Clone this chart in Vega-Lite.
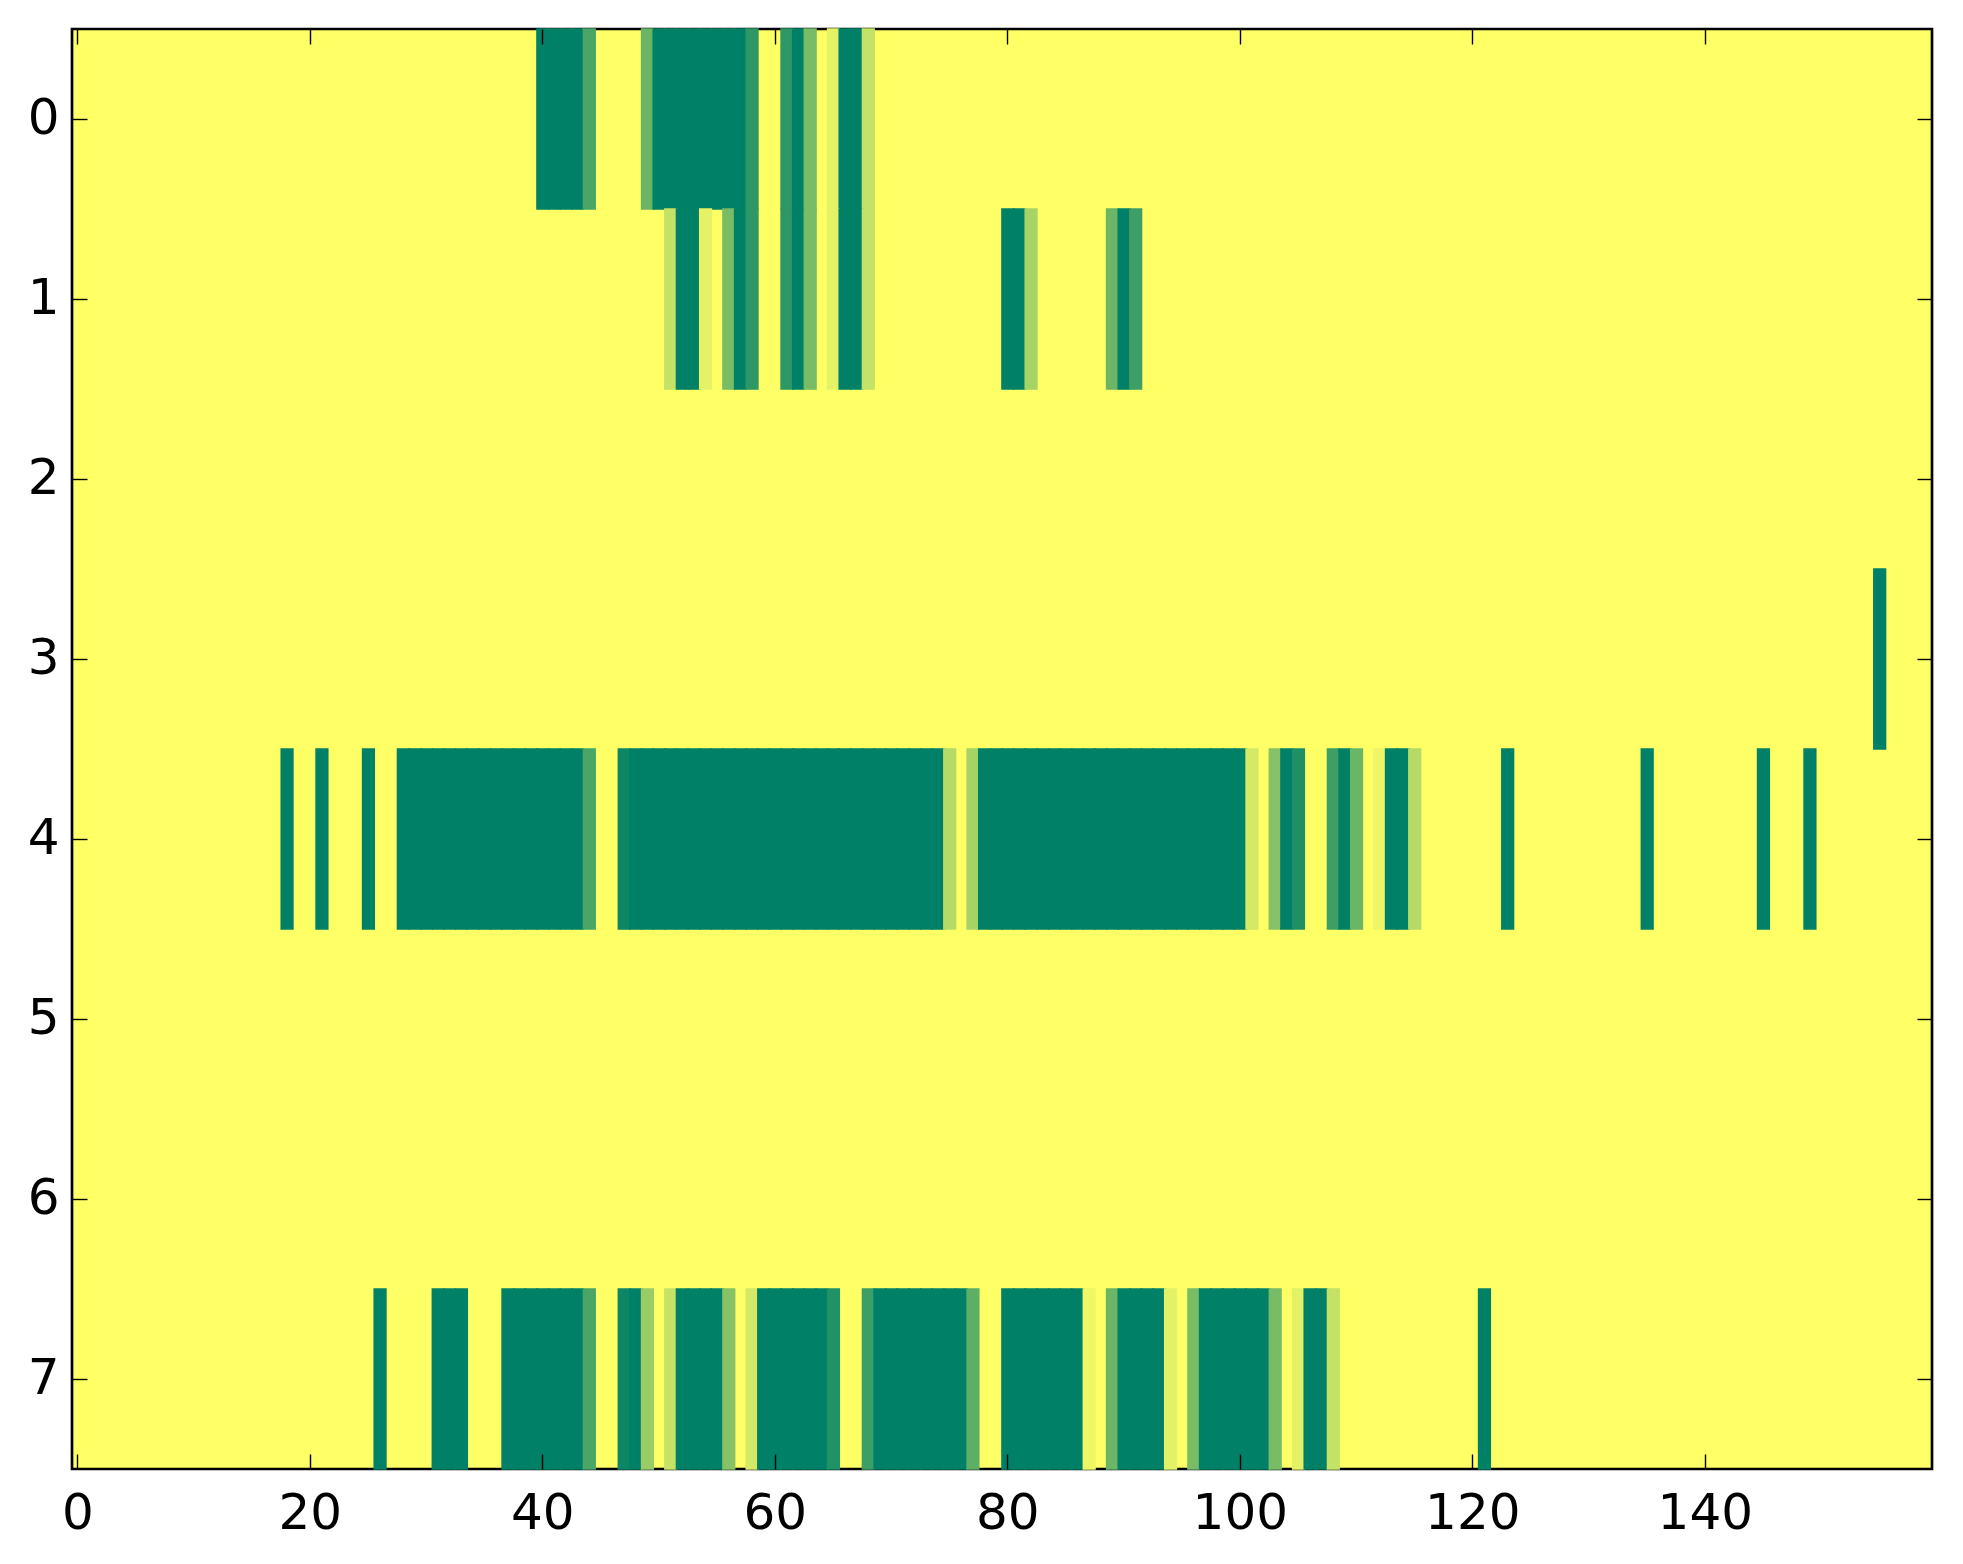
{
  "$schema": "https://vega.github.io/schema/vega-lite/v6.json",
  "width": 1860,
  "height": 1440,
  "autosize": {"type": "none"},
  "padding": {"left": 72, "top": 29, "right": 31, "bottom": 95},
  "background": "white",
  "data": {
    "values": [
      {"r":0,"c":40,"v":1},{"r":0,"c":41,"v":1},{"r":0,"c":42,"v":1},{"r":0,"c":43,"v":1},{"r":0,"c":44,"v":0.71},
      {"r":0,"c":49,"v":0.58},{"r":0,"c":50,"v":1},{"r":0,"c":51,"v":1},{"r":0,"c":52,"v":1},{"r":0,"c":53,"v":1},
      {"r":0,"c":54,"v":1},{"r":0,"c":55,"v":1},{"r":0,"c":56,"v":1},{"r":0,"c":57,"v":1},{"r":0,"c":58,"v":0.82},
      {"r":0,"c":61,"v":0.82},{"r":0,"c":62,"v":1},{"r":0,"c":63,"v":0.53},{"r":0,"c":65,"v":0.1},{"r":0,"c":66,"v":1},
      {"r":0,"c":67,"v":1},{"r":0,"c":68,"v":0.23},

      {"r":1,"c":51,"v":0.23},{"r":1,"c":52,"v":1},{"r":1,"c":53,"v":1},{"r":1,"c":54,"v":0.1},{"r":1,"c":56,"v":0.53},
      {"r":1,"c":57,"v":1},{"r":1,"c":58,"v":0.82},{"r":1,"c":61,"v":0.82},{"r":1,"c":62,"v":1},{"r":1,"c":63,"v":0.53},
      {"r":1,"c":65,"v":0.1},{"r":1,"c":66,"v":1},{"r":1,"c":67,"v":1},{"r":1,"c":68,"v":0.23},{"r":1,"c":80,"v":1},
      {"r":1,"c":81,"v":1},{"r":1,"c":82,"v":0.35},{"r":1,"c":89,"v":0.58},{"r":1,"c":90,"v":1},{"r":1,"c":91,"v":0.76},

      {"r":3,"c":155,"v":1},

      {"r":4,"c":18,"v":1},{"r":4,"c":21,"v":1},{"r":4,"c":25,"v":1},
      {"r":4,"c":28,"v":1},{"r":4,"c":29,"v":1},{"r":4,"c":30,"v":1},{"r":4,"c":31,"v":1},{"r":4,"c":32,"v":1},
      {"r":4,"c":33,"v":1},{"r":4,"c":34,"v":1},{"r":4,"c":35,"v":1},{"r":4,"c":36,"v":1},{"r":4,"c":37,"v":1},
      {"r":4,"c":38,"v":1},{"r":4,"c":39,"v":1},{"r":4,"c":40,"v":1},{"r":4,"c":41,"v":1},{"r":4,"c":42,"v":1},
      {"r":4,"c":43,"v":1},{"r":4,"c":44,"v":0.71},{"r":4,"c":47,"v":0.95},
      {"r":4,"c":48,"v":1},{"r":4,"c":49,"v":1},{"r":4,"c":50,"v":1},{"r":4,"c":51,"v":1},{"r":4,"c":52,"v":1},
      {"r":4,"c":53,"v":1},{"r":4,"c":54,"v":1},{"r":4,"c":55,"v":1},{"r":4,"c":56,"v":1},{"r":4,"c":57,"v":1},
      {"r":4,"c":58,"v":1},{"r":4,"c":59,"v":1},{"r":4,"c":60,"v":1},{"r":4,"c":61,"v":1},{"r":4,"c":62,"v":1},
      {"r":4,"c":63,"v":1},{"r":4,"c":64,"v":1},{"r":4,"c":65,"v":1},{"r":4,"c":66,"v":1},{"r":4,"c":67,"v":1},
      {"r":4,"c":68,"v":1},{"r":4,"c":69,"v":1},{"r":4,"c":70,"v":1},{"r":4,"c":71,"v":1},{"r":4,"c":72,"v":1},
      {"r":4,"c":73,"v":1},{"r":4,"c":74,"v":1},{"r":4,"c":75,"v":0.29},{"r":4,"c":77,"v":0.35},
      {"r":4,"c":78,"v":1},{"r":4,"c":79,"v":1},{"r":4,"c":80,"v":1},{"r":4,"c":81,"v":1},{"r":4,"c":82,"v":1},
      {"r":4,"c":83,"v":1},{"r":4,"c":84,"v":1},{"r":4,"c":85,"v":1},{"r":4,"c":86,"v":1},{"r":4,"c":87,"v":1},
      {"r":4,"c":88,"v":1},{"r":4,"c":89,"v":1},{"r":4,"c":90,"v":1},{"r":4,"c":91,"v":1},{"r":4,"c":92,"v":1},
      {"r":4,"c":93,"v":1},{"r":4,"c":94,"v":1},{"r":4,"c":95,"v":1},{"r":4,"c":96,"v":1},{"r":4,"c":97,"v":1},
      {"r":4,"c":98,"v":1},{"r":4,"c":99,"v":1},{"r":4,"c":100,"v":1},{"r":4,"c":101,"v":0.17},{"r":4,"c":103,"v":0.47},
      {"r":4,"c":104,"v":1},{"r":4,"c":105,"v":0.88},{"r":4,"c":108,"v":0.76},{"r":4,"c":109,"v":1},{"r":4,"c":110,"v":0.58},
      {"r":4,"c":112,"v":0.07},{"r":4,"c":113,"v":1},{"r":4,"c":114,"v":1},{"r":4,"c":115,"v":0.29},
      {"r":4,"c":123,"v":1},{"r":4,"c":135,"v":1},{"r":4,"c":145,"v":1},{"r":4,"c":149,"v":1},

      {"r":7,"c":26,"v":1},{"r":7,"c":31,"v":1},{"r":7,"c":32,"v":1},{"r":7,"c":33,"v":1},
      {"r":7,"c":37,"v":1},{"r":7,"c":38,"v":1},{"r":7,"c":39,"v":1},{"r":7,"c":40,"v":1},{"r":7,"c":41,"v":1},
      {"r":7,"c":42,"v":1},{"r":7,"c":43,"v":1},{"r":7,"c":44,"v":0.71},{"r":7,"c":47,"v":0.95},{"r":7,"c":48,"v":1},
      {"r":7,"c":49,"v":0.4},{"r":7,"c":51,"v":0.22},{"r":7,"c":52,"v":1},{"r":7,"c":53,"v":1},{"r":7,"c":54,"v":1},
      {"r":7,"c":55,"v":1},{"r":7,"c":56,"v":0.47},{"r":7,"c":58,"v":0.17},
      {"r":7,"c":59,"v":1},{"r":7,"c":60,"v":1},{"r":7,"c":61,"v":1},{"r":7,"c":62,"v":1},{"r":7,"c":63,"v":1},
      {"r":7,"c":64,"v":1},{"r":7,"c":65,"v":0.87},{"r":7,"c":68,"v":0.76},
      {"r":7,"c":69,"v":1},{"r":7,"c":70,"v":1},{"r":7,"c":71,"v":1},{"r":7,"c":72,"v":1},{"r":7,"c":73,"v":1},
      {"r":7,"c":74,"v":1},{"r":7,"c":75,"v":1},{"r":7,"c":76,"v":1},{"r":7,"c":77,"v":0.63},
      {"r":7,"c":80,"v":1},{"r":7,"c":81,"v":1},{"r":7,"c":82,"v":1},{"r":7,"c":83,"v":1},{"r":7,"c":84,"v":1},
      {"r":7,"c":85,"v":1},{"r":7,"c":86,"v":1},{"r":7,"c":87,"v":0.06},{"r":7,"c":89,"v":0.58},
      {"r":7,"c":90,"v":1},{"r":7,"c":91,"v":1},{"r":7,"c":92,"v":1},{"r":7,"c":93,"v":1},{"r":7,"c":94,"v":0.11},
      {"r":7,"c":96,"v":0.53},{"r":7,"c":97,"v":1},{"r":7,"c":98,"v":1},{"r":7,"c":99,"v":1},{"r":7,"c":100,"v":1},
      {"r":7,"c":101,"v":1},{"r":7,"c":102,"v":1},{"r":7,"c":103,"v":0.53},{"r":7,"c":105,"v":0.11},
      {"r":7,"c":106,"v":1},{"r":7,"c":107,"v":1},{"r":7,"c":108,"v":0.23},{"r":7,"c":121,"v":1}
    ]
  },
  "encoding": {
    "x": {
      "field": "c",
      "type": "ordinal",
      "scale": {
        "paddingInner": 0,
        "paddingOuter": 0,
        "domain": [0,1,2,3,4,5,6,7,8,9,10,11,12,13,14,15,16,17,18,19,20,21,22,23,24,25,26,27,28,29,30,31,32,33,34,35,36,37,38,39,40,41,42,43,44,45,46,47,48,49,50,51,52,53,54,55,56,57,58,59,60,61,62,63,64,65,66,67,68,69,70,71,72,73,74,75,76,77,78,79,80,81,82,83,84,85,86,87,88,89,90,91,92,93,94,95,96,97,98,99,100,101,102,103,104,105,106,107,108,109,110,111,112,113,114,115,116,117,118,119,120,121,122,123,124,125,126,127,128,129,130,131,132,133,134,135,136,137,138,139,140,141,142,143,144,145,146,147,148,149,150,151,152,153,154,155,156,157,158,159]
      }
    },
    "y": {
      "field": "r",
      "type": "ordinal",
      "scale": {"paddingInner": 0, "paddingOuter": 0, "domain": [0,1,2,3,4,5,6,7]}
    }
  },
  "layer": [
    {
      "mark": {"type": "rect", "strokeWidth": 1.6},
      "encoding": {
        "x": {
          "field": "c", "type": "ordinal",
          "axis": {"orient": "bottom", "values": [0,20,40,60,80,100,120,140], "labelPadding": 34}
        },
        "y": {
          "field": "r", "type": "ordinal",
          "axis": {"orient": "left", "labelPadding": 28}
        },
        "color": {
          "field": "v", "type": "quantitative",
          "scale": {"domain": [0, 1], "range": ["#ffff66", "#008066"], "interpolate": "rgb"},
          "legend": null
        },
        "stroke": {
          "field": "v", "type": "quantitative",
          "scale": {"domain": [0, 1], "range": ["#ffff66", "#008066"], "interpolate": "rgb"},
          "legend": null
        }
      }
    },
    {
      "mark": {"type": "rect", "opacity": 0},
      "encoding": {
        "x": {
          "field": "c", "type": "ordinal",
          "axis": {"orient": "top", "values": [0,20,40,60,80,100,120,140], "labels": false}
        },
        "y": {
          "field": "r", "type": "ordinal",
          "axis": {"orient": "right", "labels": false}
        }
      }
    }
  ],
  "resolve": {"axis": {"x": "independent", "y": "independent"}},
  "config": {
    "view": {"stroke": "black", "strokeWidth": 2.7, "fill": "#ffff66"},
    "axis": {
      "title": null,
      "grid": false,
      "domain": false,
      "labelAngle": 0,
      "labelFont": "DejaVu Sans",
      "labelFontSize": 50,
      "labelColor": "black",
      "tickColor": "black",
      "tickWidth": 1.4,
      "tickSize": -15
    }
  }
}
